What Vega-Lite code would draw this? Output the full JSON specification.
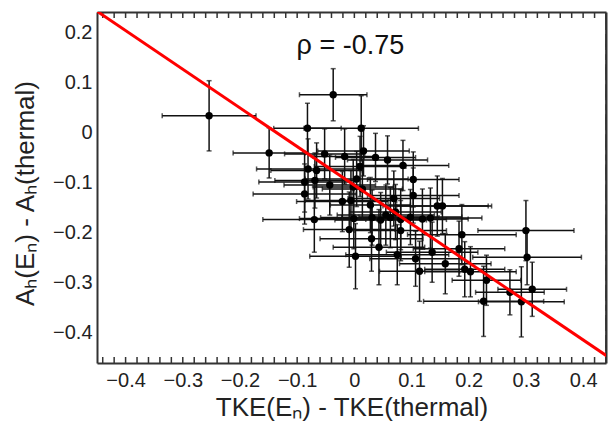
{
  "$schema": "https://vega.github.io/schema/vega-lite/v6.json",
  "width": 509,
  "height": 351,
  "autosize": {"type": "none"},
  "padding": {"left": 97, "top": 12, "right": 2, "bottom": 58},
  "background": "white",
  "config": {
    "view": {"stroke": null},
    "font": "Liberation Sans",
    "axis": {
      "grid": false,
      "domainColor": "#333333",
      "domainWidth": 2,
      "labelColor": "#222222",
      "labelFont": "Liberation Sans",
      "labelFontSize": 20,
      "labelFlush": false,
      "labelOverlap": false,
      "labelBound": false,
      "titleColor": "#222222",
      "titleFont": "Liberation Sans",
      "titleFontWeight": "normal",
      "titleFontSize": 26
    }
  },
  "datasets": {
    "points": [
      {"x": -0.254, "y": 0.033, "ex": 0.082, "ey": 0.070},
      {"x": -0.037, "y": 0.075, "ex": 0.059, "ey": 0.052},
      {"x": -0.082, "y": 0.008, "ex": 0.059, "ey": 0.050},
      {"x": -0.149, "y": -0.041, "ex": 0.063, "ey": 0.050},
      {"x": 0.012, "y": 0.008, "ex": 0.100, "ey": 0.065},
      {"x": -0.052, "y": -0.043, "ex": 0.070, "ey": 0.050},
      {"x": -0.017, "y": -0.048, "ex": 0.055, "ey": 0.055},
      {"x": 0.016, "y": -0.037, "ex": 0.080, "ey": 0.050},
      {"x": 0.037, "y": -0.050, "ex": 0.070, "ey": 0.048},
      {"x": 0.058, "y": -0.055, "ex": 0.070, "ey": 0.048},
      {"x": 0.085, "y": -0.066, "ex": 0.080, "ey": 0.050},
      {"x": -0.081, "y": -0.073, "ex": 0.090, "ey": 0.060},
      {"x": -0.066, "y": -0.076, "ex": 0.080, "ey": 0.055},
      {"x": 0.010, "y": -0.068, "ex": 0.080, "ey": 0.060},
      {"x": 0.004, "y": -0.093, "ex": 0.090, "ey": 0.055},
      {"x": -0.087, "y": -0.099, "ex": 0.080, "ey": 0.060},
      {"x": -0.069, "y": -0.096, "ex": 0.070, "ey": 0.055},
      {"x": -0.043, "y": -0.105, "ex": 0.080, "ey": 0.060},
      {"x": -0.002, "y": -0.109, "ex": 0.070, "ey": 0.055},
      {"x": 0.014, "y": -0.113, "ex": 0.070, "ey": 0.060},
      {"x": 0.103, "y": -0.094, "ex": 0.080, "ey": 0.055},
      {"x": -0.087, "y": -0.123, "ex": 0.090, "ey": 0.060},
      {"x": 0.103, "y": -0.126, "ex": 0.080, "ey": 0.055},
      {"x": -0.021, "y": -0.138, "ex": 0.080, "ey": 0.060},
      {"x": -0.006, "y": -0.136, "ex": 0.080, "ey": 0.060},
      {"x": 0.028, "y": -0.145, "ex": 0.070, "ey": 0.055},
      {"x": 0.145, "y": -0.147, "ex": 0.095, "ey": 0.060},
      {"x": 0.154, "y": -0.147, "ex": 0.080, "ey": 0.055},
      {"x": -0.070, "y": -0.174, "ex": 0.090, "ey": 0.065},
      {"x": -0.001, "y": -0.172, "ex": 0.095, "ey": 0.060},
      {"x": 0.031, "y": -0.170, "ex": 0.090, "ey": 0.055},
      {"x": 0.046, "y": -0.175, "ex": 0.080, "ey": 0.055},
      {"x": 0.063, "y": -0.170, "ex": 0.085, "ey": 0.060},
      {"x": 0.081, "y": -0.174, "ex": 0.080, "ey": 0.060},
      {"x": 0.098, "y": -0.169, "ex": 0.090, "ey": 0.055},
      {"x": 0.119, "y": -0.173, "ex": 0.080, "ey": 0.060},
      {"x": 0.133, "y": -0.171, "ex": 0.090, "ey": 0.060},
      {"x": 0.072, "y": -0.159, "ex": 0.080, "ey": 0.055},
      {"x": -0.009, "y": -0.194, "ex": 0.080, "ey": 0.075},
      {"x": 0.030, "y": -0.212, "ex": 0.090, "ey": 0.065},
      {"x": 0.043, "y": -0.229, "ex": 0.080, "ey": 0.075},
      {"x": 0.002, "y": -0.247, "ex": 0.080, "ey": 0.065},
      {"x": 0.075, "y": -0.244, "ex": 0.090, "ey": 0.060},
      {"x": 0.081, "y": -0.196, "ex": 0.080, "ey": 0.060},
      {"x": 0.188, "y": -0.204, "ex": 0.095, "ey": 0.060},
      {"x": 0.183, "y": -0.232, "ex": 0.080, "ey": 0.055},
      {"x": 0.136, "y": -0.239, "ex": 0.080, "ey": 0.060},
      {"x": 0.107, "y": -0.252, "ex": 0.080, "ey": 0.055},
      {"x": 0.114, "y": -0.277, "ex": 0.070, "ey": 0.060},
      {"x": 0.159, "y": -0.262, "ex": 0.080, "ey": 0.060},
      {"x": 0.193, "y": -0.273, "ex": 0.070, "ey": 0.055},
      {"x": 0.203, "y": -0.278, "ex": 0.080, "ey": 0.050},
      {"x": 0.231, "y": -0.295, "ex": 0.060, "ey": 0.050},
      {"x": 0.226, "y": -0.337, "ex": 0.105, "ey": 0.070},
      {"x": 0.302, "y": -0.249, "ex": 0.095, "ey": 0.055},
      {"x": 0.300, "y": -0.196, "ex": 0.084, "ey": 0.060},
      {"x": 0.272, "y": -0.319, "ex": 0.060, "ey": 0.045},
      {"x": 0.311, "y": -0.313, "ex": 0.060, "ey": 0.054},
      {"x": 0.292, "y": -0.338, "ex": 0.075, "ey": 0.070},
      {"x": 0.069, "y": -0.132, "ex": 0.080, "ey": 0.055},
      {"x": 0.055, "y": -0.165, "ex": 0.085, "ey": 0.060}
    ],
    "fit": [
      {"x": -0.5, "y": 0.28},
      {"x": 0.5, "y": -0.491}
    ],
    "note": [
      {"x": -0.007, "y": 0.172, "label": "ρ = -0.75"}
    ],
    "xticks": [
      {"v": -0.44, "kind": "minor"}, {"v": -0.42, "kind": "minor"}, {"v": -0.4, "kind": "major"},
      {"v": -0.38, "kind": "minor"}, {"v": -0.36, "kind": "minor"}, {"v": -0.34, "kind": "minor"}, {"v": -0.32, "kind": "minor"}, {"v": -0.3, "kind": "major"},
      {"v": -0.28, "kind": "minor"}, {"v": -0.26, "kind": "minor"}, {"v": -0.24, "kind": "minor"}, {"v": -0.22, "kind": "minor"}, {"v": -0.2, "kind": "major"},
      {"v": -0.18, "kind": "minor"}, {"v": -0.16, "kind": "minor"}, {"v": -0.14, "kind": "minor"}, {"v": -0.12, "kind": "minor"}, {"v": -0.1, "kind": "major"},
      {"v": -0.08, "kind": "minor"}, {"v": -0.06, "kind": "minor"}, {"v": -0.04, "kind": "minor"}, {"v": -0.02, "kind": "minor"}, {"v": 0, "kind": "major"},
      {"v": 0.02, "kind": "minor"}, {"v": 0.04, "kind": "minor"}, {"v": 0.06, "kind": "minor"}, {"v": 0.08, "kind": "minor"}, {"v": 0.1, "kind": "major"},
      {"v": 0.12, "kind": "minor"}, {"v": 0.14, "kind": "minor"}, {"v": 0.16, "kind": "minor"}, {"v": 0.18, "kind": "minor"}, {"v": 0.2, "kind": "major"},
      {"v": 0.22, "kind": "minor"}, {"v": 0.24, "kind": "minor"}, {"v": 0.26, "kind": "minor"}, {"v": 0.28, "kind": "minor"}, {"v": 0.3, "kind": "major"},
      {"v": 0.32, "kind": "minor"}, {"v": 0.34, "kind": "minor"}, {"v": 0.36, "kind": "minor"}, {"v": 0.38, "kind": "minor"}, {"v": 0.4, "kind": "major"},
      {"v": 0.42, "kind": "minor"}, {"v": 0.44, "kind": "minor"}
    ],
    "yticks": [
      {"v": -0.46, "kind": "minor"}, {"v": -0.44, "kind": "minor"}, {"v": -0.42, "kind": "minor"}, {"v": -0.4, "kind": "major"},
      {"v": -0.38, "kind": "minor"}, {"v": -0.36, "kind": "minor"}, {"v": -0.34, "kind": "minor"}, {"v": -0.32, "kind": "minor"}, {"v": -0.3, "kind": "major"},
      {"v": -0.28, "kind": "minor"}, {"v": -0.26, "kind": "minor"}, {"v": -0.24, "kind": "minor"}, {"v": -0.22, "kind": "minor"}, {"v": -0.2, "kind": "major"},
      {"v": -0.18, "kind": "minor"}, {"v": -0.16, "kind": "minor"}, {"v": -0.14, "kind": "minor"}, {"v": -0.12, "kind": "minor"}, {"v": -0.1, "kind": "major"},
      {"v": -0.08, "kind": "minor"}, {"v": -0.06, "kind": "minor"}, {"v": -0.04, "kind": "minor"}, {"v": -0.02, "kind": "minor"}, {"v": 0, "kind": "major"},
      {"v": 0.02, "kind": "minor"}, {"v": 0.04, "kind": "minor"}, {"v": 0.06, "kind": "minor"}, {"v": 0.08, "kind": "minor"}, {"v": 0.1, "kind": "major"},
      {"v": 0.12, "kind": "minor"}, {"v": 0.14, "kind": "minor"}, {"v": 0.16, "kind": "minor"}, {"v": 0.18, "kind": "minor"}, {"v": 0.2, "kind": "major"},
      {"v": 0.22, "kind": "minor"}, {"v": 0.24, "kind": "minor"}
    ]
  },
  "layer": [
    {
      "data": {"name": "xticks"},
      "mark": {"type": "rule", "color": "#333333", "strokeWidth": 1.5, "clip": true},
      "encoding": {
        "x": {"field": "v", "type": "quantitative", "scale": {"domain": [-0.45, 0.44], "nice": false, "zero": false}, "axis": null},
        "y": {"datum": -0.46, "type": "quantitative", "scale": {"domain": [-0.46, 0.24], "nice": false, "zero": false}, "axis": null},
        "y2": {"condition": {"test": "datum.kind == 'major'", "datum": -0.438}, "datum": -0.448}
      }
    },
    {
      "data": {"name": "xticks"},
      "mark": {"type": "rule", "color": "#333333", "strokeWidth": 1.5, "clip": true},
      "encoding": {
        "x": {"field": "v", "type": "quantitative", "axis": null},
        "y": {"datum": 0.24, "type": "quantitative", "axis": null},
        "y2": {"condition": {"test": "datum.kind == 'major'", "datum": 0.218}, "datum": 0.228}
      }
    },
    {
      "data": {"name": "yticks"},
      "mark": {"type": "tick", "orient": "vertical", "color": "#333333", "thickness": 1.5, "opacity": 1, "clip": true},
      "encoding": {
        "x": {"datum": -0.45, "type": "quantitative", "axis": null},
        "y": {"field": "v", "type": "quantitative", "axis": null},
        "size": {"condition": {"test": "datum.kind == 'major'", "value": 30}, "value": 16}
      }
    },
    {
      "data": {"name": "yticks"},
      "mark": {"type": "tick", "orient": "vertical", "color": "#333333", "thickness": 1.5, "opacity": 1, "clip": true},
      "encoding": {
        "x": {"datum": 0.44, "type": "quantitative", "axis": null},
        "y": {"field": "v", "type": "quantitative", "axis": null},
        "size": {"condition": {"test": "datum.kind == 'major'", "value": 30}, "value": 16}
      }
    },
    {
      "data": {"name": "points"},
      "mark": {
        "type": "errorbar",
        "color": "#111111",
        "ticks": {"size": 5, "thickness": 1.5},
        "rule": {"strokeWidth": 1.5}
      },
      "encoding": {
        "x": {"field": "x", "type": "quantitative", "axis": null},
        "xError": {"field": "ex"},
        "y": {"field": "y", "type": "quantitative", "axis": null}
      }
    },
    {
      "data": {"name": "points"},
      "mark": {
        "type": "errorbar",
        "color": "#111111",
        "ticks": {"size": 5, "thickness": 1.5},
        "rule": {"strokeWidth": 1.5}
      },
      "encoding": {
        "x": {"field": "x", "type": "quantitative", "axis": null},
        "y": {"field": "y", "type": "quantitative", "axis": null},
        "yError": {"field": "ey"}
      }
    },
    {
      "data": {"name": "points"},
      "mark": {"type": "circle", "size": 55, "color": "#000000", "opacity": 1},
      "encoding": {
        "x": {
          "field": "x",
          "type": "quantitative",
          "axis": {
            "orient": "bottom",
            "values": [-0.4, -0.3, -0.2, -0.1, 0, 0.1, 0.2, 0.3, 0.4],
            "labelExpr": "abs(datum.value) < 0.001 ? '0' : format(datum.value, '.1f')",
            "ticks": false,
            "labelPadding": 7,
            "labelBaseline": "top",
            "title": "TKE(Eₙ) - TKE(thermal)",
            "titleBaseline": "alphabetic",
            "titleY": 52
          }
        },
        "y": {
          "field": "y",
          "type": "quantitative",
          "axis": {
            "orient": "left",
            "values": [-0.4, -0.3, -0.2, -0.1, 0, 0.1, 0.2],
            "labelExpr": "abs(datum.value) < 0.001 ? '0' : format(datum.value, '.1f')",
            "ticks": false,
            "labelPadding": 5,
            "title": "Aₕ(Eₙ) - Aₕ(thermal)",
            "titleAngle": -90,
            "titleAlign": "center",
            "titleBaseline": "alphabetic",
            "titleX": -64,
            "titleY": 181
          }
        }
      }
    },
    {
      "data": {"name": "fit"},
      "mark": {"type": "line", "color": "#ff0000", "strokeWidth": 3, "clip": true},
      "encoding": {
        "x": {
          "field": "x",
          "type": "quantitative",
          "axis": {"orient": "top", "title": null, "labels": false, "ticks": false, "values": [0]}
        },
        "y": {
          "field": "y",
          "type": "quantitative",
          "axis": {"orient": "right", "title": null, "labels": false, "ticks": false, "values": [0]}
        }
      }
    },
    {
      "data": {"name": "note"},
      "mark": {"type": "text", "fontSize": 27, "font": "Liberation Sans", "color": "#111111", "align": "center", "baseline": "middle"},
      "encoding": {
        "x": {"field": "x", "type": "quantitative", "axis": null},
        "y": {"field": "y", "type": "quantitative", "axis": null},
        "text": {"field": "label"}
      }
    }
  ],
  "resolve": {"axis": {"x": "independent", "y": "independent"}}
}
